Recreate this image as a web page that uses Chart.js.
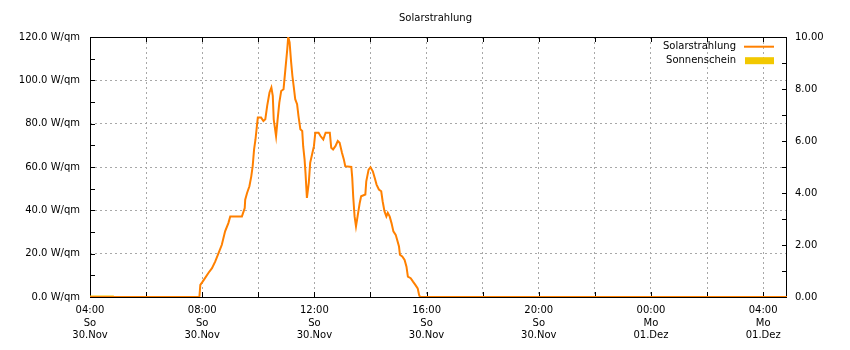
<!DOCTYPE html>
<html>
<head>
<meta charset="utf-8">
<title>Solarstrahlung</title>
<script src="https://cdn.jsdelivr.net/npm/chart.js@4.4.1/dist/chart.umd.min.js"></script>
<style>
  html, body { margin: 0; padding: 0; background: #fff; }
  #wrap { width: 850px; height: 350px; }
</style>
</head>
<body>
<div id="wrap"><canvas id="chart"></canvas></div>
<script>
const chartTitle = "Solarstrahlung";

// x range and grid (minutes since 30.Nov 00:00)
const rangeStart = 240;   // 04:00
const rangeEnd = 1731;    // ~04:51 next day
const gridMinutes = [240, 360, 480, 600, 720, 840, 960, 1080, 1200, 1320, 1440, 1560, 1680];

// tick labels
const labelMinutes = [240, 480, 720, 960, 1200, 1440, 1680];
const labelTimes = ["04:00", "08:00", "12:00", "16:00", "20:00", "00:00", "04:00"];
const labelDays = ["So", "So", "So", "So", "So", "Mo", "Mo"];
const labelDates = ["30.Nov", "30.Nov", "30.Nov", "30.Nov", "30.Nov", "01.Dez", "01.Dez"];

// Solarstrahlung (W/qm)
const solarTimes = [
  "04:00", "07:54", "07:56", "08:01", "08:06", "08:14", "08:21", "08:28", "08:35", "08:42",
  "08:49", "08:56", "09:00", "09:25", "09:31", "09:32", "09:36", "09:41", "09:45", "09:48",
  "09:51", "09:54", "09:57", "09:59", "10:06", "10:11", "10:15", "10:19", "10:24", "10:28",
  "10:31", "10:33", "10:38", "10:41", "10:45", "10:49", "10:54", "10:58", "11:02", "11:04",
  "11:07", "11:10", "11:13", "11:16", "11:19", "11:23", "11:26", "11:30", "11:34", "11:36",
  "11:39", "11:41", "11:44", "11:48", "11:51", "11:55", "11:59", "12:02", "12:09", "12:13",
  "12:19", "12:24", "12:33", "12:36", "12:40", "12:45", "12:50", "12:54", "12:59", "13:03",
  "13:06", "13:19", "13:21", "13:23", "13:26", "13:29", "13:33", "13:37", "13:40", "13:49",
  "13:51", "13:56", "14:00", "14:05", "14:09", "14:13", "14:18", "14:23", "14:26", "14:30",
  "14:34", "14:37", "14:41", "14:45", "14:49", "14:54", "14:57", "15:01", "15:03", "15:08",
  "15:13", "15:17", "15:20", "15:26", "15:31", "15:36", "15:41", "15:44", "15:46", "04:51"
];
const solar = [
  0, 0, 5.6, 7.1, 8.7, 11.3, 13.3, 16.4, 20.2, 24.1,
  30.3, 34.1, 37.2, 37.2, 41.1, 44.9, 48.0, 51.1, 55.7, 60.4,
  68.1, 72.7, 78.9, 82.8, 82.8, 81.2, 82.0, 88.2, 94.4, 96.7,
  92.8, 82.0, 74.3, 81.2, 89.7, 95.1, 95.9, 105.2, 114.4, 120.0,
  117.5, 109.0, 102.0, 96.7, 91.3, 89.0, 83.5, 77.4, 76.6, 69.6,
  63.5, 57.3, 45.7, 52.7, 61.9, 65.8, 69.6, 75.8, 75.8, 74.3,
  72.7, 75.8, 75.8, 68.9, 68.1, 69.6, 72.0, 71.2, 66.6, 63.5,
  60.4, 60.0, 55.0, 46.5, 37.2, 32.6, 38.0, 43.4, 46.5, 47.3,
  53.4, 58.8, 59.9, 58.0, 55.0, 51.9, 49.6, 48.8, 44.2, 39.5,
  37.2, 38.8, 37.2, 34.1, 30.3, 28.7, 26.4, 23.3, 19.5, 18.7,
  17.1, 14.0, 9.4, 8.7, 7.1, 5.6, 4.0, 0.9, 0, 0
];

// Sonnenschein (right axis)
const sunshineTimes = ["04:00", "04:51"];
const sunshine = [0, 0];

// "HH:MM" -> minutes, rolling over midnight when time goes backwards
function toPoints(times, values) {
  let prev = -1, offset = 0;
  return times.map((t, i) => {
    const [h, m] = t.split(":").map(Number);
    let min = h * 60 + m + offset;
    if (min < prev) { offset += 1440; min += 1440; }
    prev = min;
    return { x: min, y: values[i] };
  });
}

const FONT = "'DejaVu Sans', sans-serif";
Chart.defaults.font.family = FONT;
Chart.defaults.font.size = 10;
Chart.defaults.color = "#000";

const gridColor = "#a8a8a8";

// rrdtool-like frame: border, inner ticks, title, legend
const rrdFrame = {
  id: "rrdFrame",
  beforeDraw(chart) {
    const ctx = chart.ctx;
    ctx.save();
    ctx.fillStyle = "#fff";
    ctx.fillRect(0, 0, chart.width, chart.height);
    ctx.restore();
  },
  beforeDatasetsDraw(chart) {
    const { ctx, chartArea: a, scales } = chart;
    ctx.save();
    ctx.strokeStyle = "#000";
    ctx.lineWidth = 1;
    ctx.strokeRect(a.left + 0.5, a.top + 0.5, a.right - a.left - 1, a.bottom - a.top);
    ctx.beginPath();
    gridMinutes.forEach((v) => {
      const px = Math.round(scales.x.getPixelForValue(v)) + 0.5;
      ctx.moveTo(px, a.bottom); ctx.lineTo(px, a.bottom - 5);
      ctx.moveTo(px, a.top); ctx.lineTo(px, a.top + 5);
    });
    for (let v = 0; v <= 120; v += 10) {
      const py = Math.round(scales.y.getPixelForValue(v)) + 0.5;
      ctx.moveTo(a.left, py); ctx.lineTo(a.left + 5, py);
    }
    for (let v = 0; v <= 10; v += 1) {
      const py = Math.round(scales.y1.getPixelForValue(v)) + 0.5;
      ctx.moveTo(a.right, py); ctx.lineTo(a.right - 5, py);
    }
    ctx.stroke();
    ctx.restore();
  },
  afterDraw(chart) {
    const { ctx, chartArea: a } = chart;
    ctx.save();
    ctx.font = "10px " + FONT;
    ctx.fillStyle = "#000";
    ctx.textBaseline = "middle";
    ctx.textAlign = "center";
    ctx.fillText(chartTitle, (a.left + a.right) / 2 - 3, 18);

    ctx.textAlign = "right";
    chart.data.datasets.forEach((ds, i) => {
      const y = a.top + 9.7 + i * 14;
      ctx.fillStyle = "#000";
      ctx.fillText(ds.label, a.right - 51, y);
      if (ds.fill) {
        ctx.fillStyle = ds.backgroundColor;
        ctx.fillRect(a.right - 42, y - 3.5, 29, 7);
      } else {
        ctx.strokeStyle = ds.borderColor;
        ctx.lineWidth = 2;
        ctx.beginPath();
        ctx.moveTo(a.right - 43, y);
        ctx.lineTo(a.right - 13, y);
        ctx.stroke();
      }
    });
    ctx.restore();
  }
};

new Chart(document.getElementById("chart"), {
  type: "line",
  data: {
    datasets: [
      {
        label: "Solarstrahlung",
        data: toPoints(solarTimes, solar),
        yAxisID: "y",
        borderColor: "#ff8000",
        borderWidth: 2,
        pointRadius: 0,
        tension: 0,
        fill: false,
        order: 0
      },
      {
        label: "Sonnenschein",
        data: toPoints(sunshineTimes, sunshine),
        yAxisID: "y1",
        borderColor: "#f2c800",
        backgroundColor: "#f2c800",
        borderWidth: 3,
        pointRadius: 0,
        fill: "origin",
        order: 1
      }
    ]
  },
  options: {
    responsive: true,
    maintainAspectRatio: false,
    animation: false,
    layout: { padding: { top: 37, left: 0, right: 0, bottom: 0 } },
    plugins: {
      legend: { display: false },
      title: { display: false },
      tooltip: { enabled: false }
    },
    scales: {
      x: {
        type: "linear",
        min: rangeStart,
        max: rangeEnd,
        afterBuildTicks: (scale) => { scale.ticks = gridMinutes.map((v) => ({ value: v })); },
        afterFit: (scale) => { scale.height = 53; },
        grid: { color: gridColor, drawTicks: false, borderDash: [2, 3] },
        border: { display: false, dash: [2, 3] },
        ticks: {
          autoSkip: false,
          maxRotation: 0,
          padding: 7,
          font: { size: 10, lineHeight: 1.27 },
          callback: (v) => {
            const i = labelMinutes.indexOf(v);
            return i < 0 ? "" : [labelTimes[i], labelDays[i], labelDates[i]];
          }
        }
      },
      y: {
        position: "left",
        min: 0,
        max: 120,
        afterFit: (scale) => { scale.width = 90; },
        grid: { color: gridColor, drawTicks: false, borderDash: [2, 3] },
        border: { display: false, dash: [2, 3] },
        ticks: {
          stepSize: 20,
          padding: 10,
          callback: (v) => v.toFixed(1) + " W/qm"
        }
      },
      y1: {
        position: "right",
        min: 0,
        max: 10,
        afterFit: (scale) => { scale.width = 63; },
        grid: { drawOnChartArea: false, drawTicks: false },
        border: { display: false },
        ticks: {
          stepSize: 2,
          padding: 8,
          callback: (v) => v.toFixed(2)
        }
      }
    }
  },
  plugins: [rrdFrame]
});
</script>
</body>
</html>
